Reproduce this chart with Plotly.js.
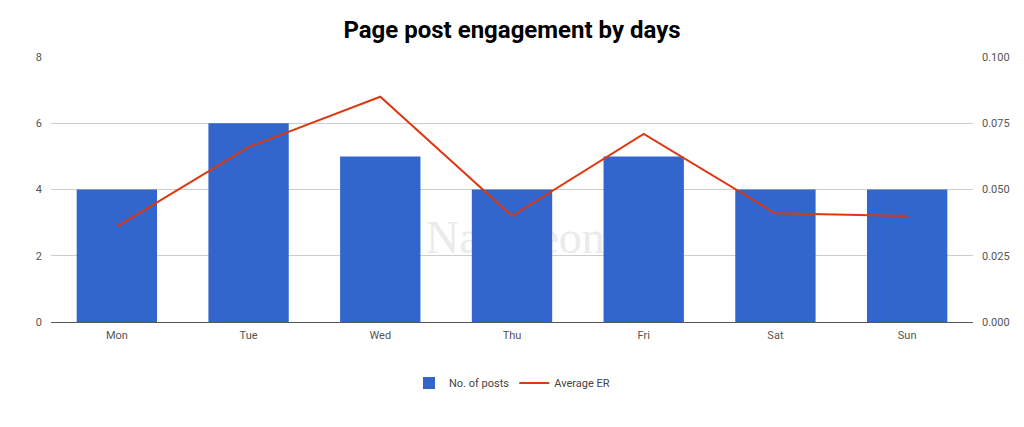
<!DOCTYPE html>
<html>
<head>
<meta charset="utf-8">
<script src="https://cdn.plot.ly/plotly-3.0.1.min.js"></script>
<style>
html,body{margin:0;padding:0;background:#fff;}
#wrap{position:relative;width:1024px;height:427px;}
#wm{position:absolute;left:426px;top:211px;font-family:"Liberation Serif","DejaVu Serif",serif;font-size:46px;color:#ebebeb;z-index:0;white-space:nowrap;}
#chart{position:absolute;left:0;top:0;width:1024px;height:427px;z-index:1;}
</style>
</head>
<body>
<div id="wrap">
<div id="wm">NapoleonCat.</div>
<div id="chart"></div>
</div>
<script>
const days = ["Mon","Tue","Wed","Thu","Fri","Sat","Sun"];
const posts = [4, 6, 5, 4, 5, 4, 4];
const avgER = [0.036, 0.066, 0.085, 0.040, 0.071, 0.041, 0.040];
const leftTicks = [0, 2, 4, 6, 8];
const rightTicks = [0, 0.025, 0.05, 0.075, 0.1];

const data = [
  {type:"bar", x:days, y:posts, name:"No. of posts", marker:{color:"#3366cc"}, hoverinfo:"x+y"},
  {type:"scatter", mode:"lines", x:days, y:avgER, name:"Average ER", yaxis:"y2",
   line:{color:"#dc3912", width:2}}
];
const layout = {
  width:1024, height:427,
  paper_bgcolor:"rgba(0,0,0,0)", plot_bgcolor:"rgba(0,0,0,0)",
  margin:{l:51, r:51, t:57, b:105},
  title:{text:"<b>Page post engagement by days</b>", x:0.5, xanchor:"center", y:0.93, yanchor:"middle",
         font:{family:"Roboto", size:24, color:"#000"}},
  font:{family:"Roboto", size:11, color:"#555"},
  bargap:0.39,
  showlegend:true,
  legend:{orientation:"h", x:0.5, xanchor:"center", y:-0.23, yanchor:"middle",
          font:{family:"Roboto", size:11, color:"#444"}, itemwidth:30, traceorder:"normal"},
  xaxis:{type:"category", showgrid:false, showline:true, linecolor:"#555", linewidth:1,
         ticks:"", ticklabelstandoff:3, tickfont:{size:11, color:"#555"}, fixedrange:true},
  yaxis:{range:[0,8], tickvals:leftTicks, showgrid:true, gridcolor:"#cccccc", zeroline:false,
         showline:false, ticks:"", ticklabelstandoff:8, tickfont:{size:11, color:"#555"}},
  yaxis2:{range:[0,0.1], tickvals:rightTicks, tickformat:".3f", overlaying:"y", side:"right",
          showgrid:false, zeroline:false, showline:false, ticks:"", ticklabelstandoff:8,
          tickfont:{size:11, color:"#555"}}
};
Plotly.newPlot("chart", data, layout, {displayModeBar:false, staticPlot:true});
</script>
</body>
</html>
